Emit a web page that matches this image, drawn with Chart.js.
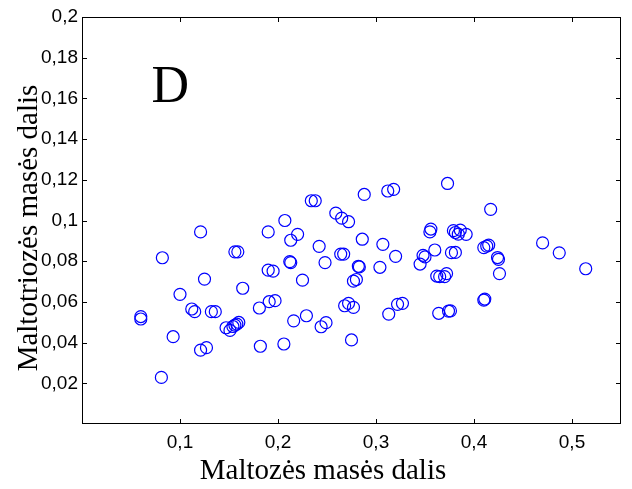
<!DOCTYPE html>
<html>
<head>
<meta charset="utf-8">
<script src="https://cdn.jsdelivr.net/npm/chart.js@4.4.0/dist/chart.umd.min.js"></script>
<style>
  html, body { margin: 0; padding: 0; background: #fff; }
</style>
</head>
<body>
<canvas id="chart" width="632" height="489"></canvas>
<script>
// Maltozės masės dalis (x) / Maltotriozės masės dalis (y)
var maltoze = [
  0.121, 0.082, 0.156, 0.159, 0.125, 0.100, 0.164, 0.060, 0.060, 0.112,
  0.115, 0.132, 0.136, 0.181, 0.147, 0.151, 0.154, 0.156, 0.158, 0.160,
  0.093, 0.121, 0.127, 0.182, 0.081, 0.190, 0.190, 0.195, 0.207, 0.213,
  0.220, 0.212, 0.213, 0.234, 0.238, 0.225, 0.191, 0.197, 0.216, 0.229,
  0.244, 0.249, 0.206, 0.242, 0.248, 0.259, 0.265, 0.272, 0.264, 0.267,
  0.282, 0.283, 0.286, 0.288, 0.307, 0.304, 0.312, 0.318, 0.277, 0.280,
  0.268, 0.272, 0.277, 0.275, 0.313, 0.320, 0.322, 0.327, 0.345, 0.348,
  0.350, 0.356, 0.355, 0.360, 0.362, 0.365, 0.370, 0.372, 0.373, 0.379,
  0.381, 0.384, 0.386, 0.392, 0.377, 0.381, 0.364, 0.374, 0.376, 0.410,
  0.411, 0.410, 0.413, 0.415, 0.417, 0.424, 0.425, 0.426, 0.470, 0.487,
  0.514
];
var maltotrioze = [
  0.0944, 0.0817, 0.0846, 0.0846, 0.0712, 0.0637, 0.0667, 0.0528, 0.0516, 0.0565,
  0.0552, 0.0552, 0.0552, 0.0570, 0.0473, 0.0460, 0.0479, 0.0486, 0.0491, 0.0499,
  0.0429, 0.0363, 0.0375, 0.0382, 0.0229, 0.0944, 0.0756, 0.0751, 0.1000, 0.0903,
  0.0932, 0.0798, 0.0793, 0.1097, 0.1097, 0.0707, 0.0601, 0.0606, 0.0507, 0.0532,
  0.0478, 0.0498, 0.0393, 0.0873, 0.0793, 0.1036, 0.1012, 0.0994, 0.0835, 0.0835,
  0.0775, 0.0772, 0.0908, 0.1128, 0.0883, 0.0770, 0.1145, 0.1153, 0.0702, 0.0710,
  0.0581, 0.0593, 0.0573, 0.0413, 0.0540, 0.0824, 0.0588, 0.0593, 0.0786, 0.0829,
  0.0821, 0.0958, 0.0944, 0.0855, 0.0727, 0.0724, 0.0724, 0.0739, 0.1182, 0.0950,
  0.0941, 0.0933, 0.0953, 0.0932, 0.0842, 0.0843, 0.0544, 0.0555, 0.0556, 0.0609,
  0.0614, 0.0867, 0.0874, 0.0879, 0.1055, 0.0818, 0.0809, 0.0739, 0.0890, 0.0841,
  0.0763
];
var xTicks = [0.1, 0.2, 0.3, 0.4, 0.5];
var yTicks = [0.02, 0.04, 0.06, 0.08, 0.1, 0.12, 0.14, 0.16, 0.18, 0.2];
var xTitle = 'Maltozės masės dalis';
var yTitle = 'Maltotriozės masės dalis';
var panelLabel = 'D';

var points = [];
for (var i = 0; i < maltoze.length; i++) {
  points.push({ x: maltoze[i], y: maltotrioze[i] });
}

// comma as decimal separator
function fmt(v) {
  return String(Math.round(v * 100) / 100).replace('.', ',');
}

// frame, inward ticks on all four sides, titles and the panel letter
var framePlugin = {
  id: 'frame',
  afterDraw: function(chart) {
    var ctx = chart.ctx;
    var a = chart.chartArea;
    var xs = chart.scales.x, ys = chart.scales.y;
    var len = 5;
    ctx.save();
    ctx.strokeStyle = '#000';
    ctx.lineWidth = 1;
    ctx.strokeRect(a.left + 0.5, a.top + 0.5, a.right - a.left - 1, a.bottom - a.top - 1);
    ctx.beginPath();
    xs.ticks.forEach(function(t) {
      var px = Math.round(xs.getPixelForValue(t.value)) + 0.5;
      ctx.moveTo(px, a.bottom); ctx.lineTo(px, a.bottom - len);
      ctx.moveTo(px, a.top); ctx.lineTo(px, a.top + len);
    });
    ys.ticks.forEach(function(t) {
      var py = Math.round(ys.getPixelForValue(t.value)) + 0.5;
      ctx.moveTo(a.left, py); ctx.lineTo(a.left + len, py);
      ctx.moveTo(a.right, py); ctx.lineTo(a.right - len, py);
    });
    ctx.stroke();

    ctx.fillStyle = '#000';
    ctx.font = '29px "Liberation Serif", "Times New Roman", serif';
    ctx.textAlign = 'center';
    ctx.textBaseline = 'alphabetic';
    ctx.fillText(xTitle, 323, 479);
    ctx.save();
    ctx.translate(37, 228);
    ctx.rotate(-Math.PI / 2);
    ctx.fillText(yTitle, 0, 0);
    ctx.restore();

    ctx.font = '52px "Liberation Serif", "Times New Roman", serif';
    ctx.fillText(panelLabel, xs.getPixelForValue(0.09), ys.getPixelForValue(0.158));
    ctx.restore();
  }
};

new Chart(document.getElementById('chart'), {
  type: 'scatter',
  data: {
    datasets: [{
      data: points,
      showLine: false,
      pointStyle: 'circle',
      pointRadius: 6,
      pointHoverRadius: 6,
      pointBorderWidth: 1.2,
      borderColor: '#0000ff',
      backgroundColor: 'rgba(0,0,0,0)',
      pointBackgroundColor: 'rgba(0,0,0,0)'
    }]
  },
  options: {
    responsive: false,
    animation: false,
    devicePixelRatio: 1,
    layout: { padding: { top: 17, right: 11, left: 0, bottom: 0 } },
    plugins: {
      legend: { display: false },
      tooltip: { enabled: false }
    },
    scales: {
      x: {
        type: 'linear',
        min: 0,
        max: 0.55,
        afterBuildTicks: function(s) { s.ticks = xTicks.map(function(v) { return { value: v }; }); },
        afterFit: function(s) { s.height = 65; },
        grid: { display: false, drawTicks: false },
        border: { display: false },
        ticks: {
          padding: 7,
          color: '#000',
          font: { family: '"Liberation Sans", Arial, sans-serif', size: 19 },
          maxRotation: 0,
          callback: function(v) { return fmt(v); }
        }
      },
      y: {
        type: 'linear',
        min: 0,
        max: 0.2,
        afterBuildTicks: function(s) { s.ticks = yTicks.map(function(v) { return { value: v }; }); },
        afterFit: function(s) { s.width = 82; },
        grid: { display: false, drawTicks: false },
        border: { display: false },
        ticks: {
          padding: 4,
          color: '#000',
          font: { family: '"Liberation Sans", Arial, sans-serif', size: 19 },
          callback: function(v) { return fmt(v); }
        }
      }
    }
  },
  plugins: [framePlugin]
});
</script>
</body>
</html>
